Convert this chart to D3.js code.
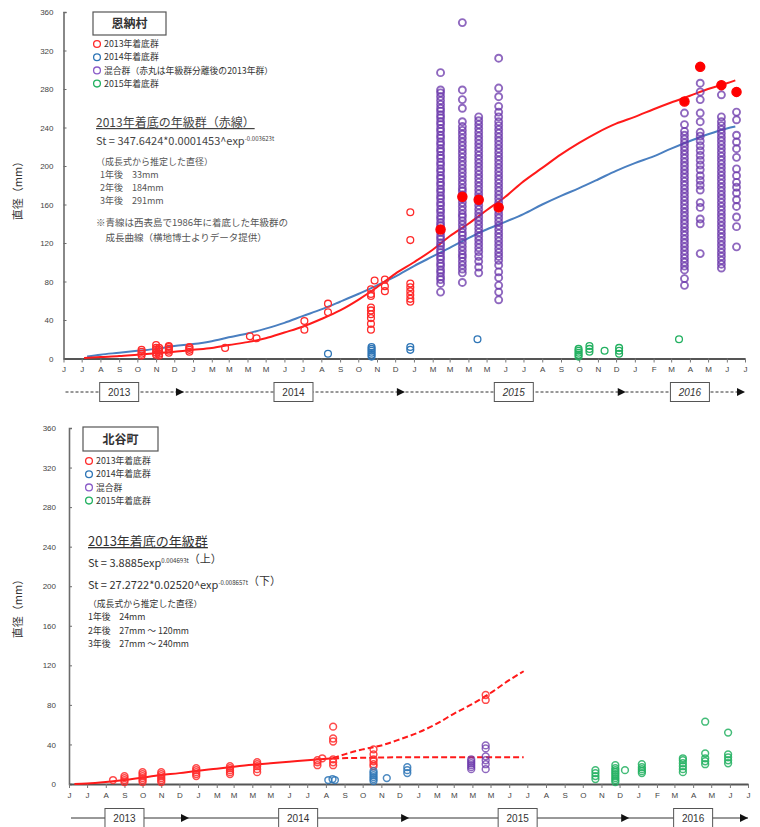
<!DOCTYPE html>
<html>
<head>
<meta charset="utf-8">
<script src="https://cdn.jsdelivr.net/npm/d3@7"></script>
<style>
body { margin: 0; background: #fff; }
text { font-family: "Noto Sans CJK JP", "Noto Sans", sans-serif; }
</style>
</head>
<body>
<div id="chart"></div>
<script>
// month letters under the axis, copied as printed (F/A shown as M in 2014-2015)
const monthLabels = ["J","J","A","S","O","N","D",
  "J","M","M","M","M","J","J","A","S","O","N","D",
  "J","M","M","M","M","J","J","A","S","O","N","D",
  "J","F","M","A","M","J","J"];
const yTicks = [0, 40, 80, 120, 160, 200, 240, 280, 320, 360];
const years = ["2013", "2014", "2015", "2016"];
const yearBoxDates = ["2013-09-01", "2014-06-16", "2015-06-15", "2016-04-01"];
const yearArrowDates = ["2013-12-17", "2014-12-17", "2015-12-17", "2016-07-01"];

const legendColors = ["#ff2a2a", "#2e75b6", "#8a5cc8", "#22b060"];
const onnaLegend = ["2013年着底群", "2014年着底群", "混合群（赤丸は年級群分離後の2013年群）", "2015年着底群"];
const chatanLegend = ["2013年着底群", "2014年着底群", "混合群", "2015年着底群"];

// ---- 恩納村 (top) ----
const onnaRed = [
  ["2013-10-08", [3, 5, 7, 9]],
  ["2013-11-01", [4, 6, 9, 11, 14]],
  ["2013-11-06", [3, 5, 7, 9, 11]],
  ["2013-11-22", [6, 8, 10, 12, 13]],
  ["2013-12-26", [7, 9, 11, 12]],
  ["2014-02-23", [11]],
  ["2014-04-05", [23]],
  ["2014-04-16", [21]],
  ["2014-07-04", [30, 39]],
  ["2014-08-12", [48, 57]],
  ["2014-10-22", [30, 36, 42, 46, 50, 53, 65, 67, 72]],
  ["2014-10-28", [81]],
  ["2014-11-14", [70, 75, 82]],
  ["2014-12-26", [59, 62, 66, 70, 74, 78, 123, 152]]
];
const onnaBlue = [
  ["2014-08-12", [5]],
  ["2014-10-23", [2, 4, 6, 8, 10, 12]],
  ["2014-12-26", [9, 12]],
  ["2015-04-16", [20]]
];
const onnaGreen = [
  ["2015-09-30", [2, 4, 6, 8, 10]],
  ["2015-10-18", [7, 10, 13]],
  ["2015-11-12", [8]],
  ["2015-12-06", [5, 8, 11]],
  ["2016-03-14", [20]]
];
const onnaMixed = [
  ["2015-02-14", [69, 78, 82, 85, 89, 92, 96, 99, 103, 106, 110, 113, 117, 120, 124, 127, 131, 134, 138, 141, 145, 148, 152, 155, 159, 162, 166, 169, 173, 176, 180, 183, 187, 190, 194, 197, 201, 204, 208, 211, 215, 218, 222, 225, 229, 232, 236, 239, 243, 246, 250, 253, 257, 260, 264, 268, 272, 276, 279, 297]],
  ["2015-03-22", [79, 89, 93, 97, 101, 105, 108, 112, 116, 120, 124, 128, 131, 135, 139, 143, 147, 150, 154, 158, 162, 166, 170, 174, 177, 181, 185, 189, 193, 197, 201, 205, 209, 213, 217, 221, 225, 229, 233, 237, 241, 246, 260, 269, 279, 349]],
  ["2015-04-18", [89, 95, 101, 106, 111, 115, 119, 123, 127, 131, 135, 139, 143, 147, 151, 155, 159, 163, 167, 171, 175, 179, 183, 187, 191, 195, 199, 203, 207, 211, 215, 219, 223, 227, 231, 235, 239, 243, 247, 251]],
  ["2015-05-21", [61, 69, 76, 84, 90, 97, 102, 106, 110, 114, 118, 122, 126, 130, 134, 138, 142, 146, 150, 154, 158, 162, 166, 170, 174, 178, 182, 186, 190, 194, 198, 202, 206, 210, 214, 218, 222, 226, 230, 234, 238, 242, 246, 251, 256, 262, 272, 281, 312]],
  ["2016-03-23", [76, 83, 92, 96, 100, 104, 108, 112, 116, 120, 124, 128, 132, 136, 140, 144, 148, 152, 156, 160, 164, 168, 172, 176, 180, 184, 188, 192, 196, 200, 204, 208, 212, 216, 220, 224, 228, 232, 236, 243, 255]],
  ["2016-04-18", [109, 140, 145, 157, 162, 175, 180, 185, 190, 196, 201, 206, 211, 216, 221, 226, 231, 235, 246, 255, 269, 277, 286]],
  ["2016-05-23", [94, 98, 102, 106, 110, 114, 118, 122, 126, 130, 134, 138, 142, 146, 150, 154, 158, 162, 166, 170, 174, 178, 182, 186, 190, 194, 198, 202, 206, 210, 214, 218, 222, 226, 230, 234, 238, 242, 246, 251, 274]],
  ["2016-06-17", [116, 137, 147, 158, 165, 172, 178, 183, 190, 197, 209, 218, 225, 232, 248, 256]]
];
const onnaRedSeparated = [
  ["2015-02-14", [134]], ["2015-03-22", [168]], ["2015-04-18", [165]], ["2015-05-21", [157]],
  ["2016-03-23", [267]], ["2016-04-18", [303]], ["2016-05-23", [284]], ["2016-06-17", [277]]
];
const onnaRedCurve = [
  ["2013-07-05", 0.5], ["2013-08-01", 1.5], ["2013-09-01", 2.5], ["2013-10-01", 4], ["2013-11-01", 5.5],
  ["2013-12-01", 7], ["2014-01-01", 9], ["2014-02-01", 11], ["2014-03-01", 14], ["2014-04-01", 17],
  ["2014-05-01", 21], ["2014-06-01", 27], ["2014-07-01", 33], ["2014-08-01", 41], ["2014-09-01", 50],
  ["2014-10-01", 61], ["2014-11-01", 74], ["2014-12-01", 88], ["2015-01-01", 100], ["2015-02-01", 113],
  ["2015-03-01", 127], ["2015-04-01", 140], ["2015-05-01", 154], ["2015-06-01", 168], ["2015-07-01", 184],
  ["2015-08-01", 198], ["2015-09-01", 212], ["2015-10-01", 224], ["2015-11-01", 235], ["2015-12-01", 244],
  ["2016-01-01", 251], ["2016-02-01", 259], ["2016-03-01", 266], ["2016-04-01", 273], ["2016-05-01", 280],
  ["2016-06-01", 286], ["2016-06-15", 289]
];
const onnaBlueCurve = [
  ["2013-07-10", 2], ["2013-08-01", 4], ["2013-09-01", 6], ["2013-10-01", 8], ["2013-11-01", 10],
  ["2013-12-01", 13], ["2014-01-01", 15], ["2014-02-01", 18], ["2014-03-01", 22], ["2014-04-01", 26],
  ["2014-05-01", 31], ["2014-06-01", 37], ["2014-07-01", 44], ["2014-08-01", 51], ["2014-09-01", 59],
  ["2014-10-01", 67], ["2014-11-01", 76], ["2014-12-01", 85], ["2015-01-01", 96], ["2015-02-01", 106],
  ["2015-03-01", 115], ["2015-04-01", 125], ["2015-05-01", 134], ["2015-06-01", 142], ["2015-07-01", 150],
  ["2015-08-01", 160], ["2015-09-01", 169], ["2015-10-01", 177], ["2015-11-01", 186], ["2015-12-01", 195],
  ["2016-01-01", 203], ["2016-02-01", 210], ["2016-03-01", 218], ["2016-04-01", 226], ["2016-05-01", 233],
  ["2016-06-01", 239], ["2016-06-15", 241]
];

// ---- 北谷町 (bottom) ----
const chatanRed = [
  ["2013-08-13", [4]],
  ["2013-09-01", [2, 4, 6, 8]],
  ["2013-10-01", [2, 4, 6, 8, 10, 12]],
  ["2013-11-01", [2, 4, 6, 8, 10, 12]],
  ["2013-12-29", [8, 10, 12, 14, 16]],
  ["2014-02-23", [10, 12, 14, 16, 18]],
  ["2014-04-09", [12, 15, 18, 20, 22]],
  ["2014-07-18", [19, 22, 24]],
  ["2014-07-26", [26]],
  ["2014-08-13", [19, 22, 25, 43, 46, 58]],
  ["2014-10-19", [18, 20, 23, 25, 30, 35]],
  ["2015-04-23", [85, 90]]
];
const chatanBlue = [
  ["2014-08-05", [4]], ["2014-08-12", [5]], ["2014-08-16", [4]],
  ["2014-10-19", [3, 5, 7, 9, 11, 13]],
  ["2014-11-10", [6]],
  ["2014-12-14", [11, 14, 17]]
];
const chatanMixed = [
  ["2015-03-30", [15, 17, 19, 21, 23, 25]],
  ["2015-04-23", [15, 20, 24, 28, 36, 39]]
];
const chatanGreen = [
  ["2015-10-22", [5, 8, 11, 14]],
  ["2015-11-24", [2, 4, 6, 8, 10, 12, 14, 16, 19]],
  ["2015-12-10", [14]],
  ["2016-01-07", [11, 13, 15, 17, 20]],
  ["2016-03-15", [12, 15, 18, 21, 24, 26]],
  ["2016-04-21", [20, 23, 26, 31, 63]],
  ["2016-05-29", [21, 24, 27, 30, 52]]
];
const chatanCurveSolid = [
  ["2013-06-10", 0], ["2013-07-01", 0.5], ["2013-08-01", 2], ["2013-09-01", 4], ["2013-10-01", 6.5],
  ["2013-11-01", 9], ["2013-12-01", 11], ["2014-01-01", 13.5], ["2014-02-01", 15.5], ["2014-03-01", 17.5],
  ["2014-04-01", 19.5], ["2014-05-01", 21], ["2014-06-01", 22.5], ["2014-07-01", 24], ["2014-08-13", 26]
];
const chatanCurveUpper = [
  ["2014-08-13", 26], ["2014-09-01", 30], ["2014-10-01", 35], ["2014-11-01", 39], ["2014-12-01", 45],
  ["2015-01-01", 52], ["2015-02-01", 61], ["2015-03-01", 71], ["2015-04-01", 81], ["2015-05-01", 92],
  ["2015-06-01", 105], ["2015-06-25", 114]
];
const chatanCurveLower = [
  ["2014-08-13", 26], ["2014-10-01", 26.5], ["2014-12-01", 27], ["2015-02-01", 27],
  ["2015-04-01", 27], ["2015-06-25", 27]
];

const parse = d3.timeParse("%Y-%m-%d");
const W = 760, H = 827;
const svg = d3.select("#chart").append("svg")
  .attr("width", W).attr("height", H)
  .style("background", "#fff");

function flatten(groups) {
  return groups.flatMap(([d, vals]) => vals.map(v => ({ date: parse(d), v })));
}

function dots(g, x, y, groups, color, r, filled, sw = 1.3, op = 1) {
  g.append("g").selectAll("circle")
    .data(flatten(groups))
    .join("circle")
    .attr("cx", d => x(d.date))
    .attr("cy", d => y(d.v))
    .attr("r", r)
    .attr("fill", filled ? color : "none")
    .attr("stroke", color)
    .attr("stroke-width", sw)
    .attr("stroke-opacity", op);
}

function curve(g, x, y, pts, color, dash) {
  const line = d3.line()
    .x(d => x(parse(d[0])))
    .y(d => y(d[1]))
    .curve(d3.curveMonotoneX);
  g.append("path")
    .datum(pts)
    .attr("d", line)
    .attr("fill", "none")
    .attr("stroke", color)
    .attr("stroke-width", 2)
    .attr("stroke-dasharray", dash || null);
}

function addText(g, x, y, parts, size, opts = {}) {
  const t = g.append("text")
    .attr("x", x).attr("y", y)
    .attr("font-size", size)
    .attr("fill", opts.fill || "#333")
    .attr("font-weight", opts.bold ? "bold" : null)
    .style("text-decoration", opts.underline ? "underline" : null);
  parts.forEach(p => {
    if (typeof p === "string") {
      t.append("tspan").text(p);
    } else {
      t.append("tspan").attr("font-size", size * 0.55).attr("dy", -size * 0.38).text(p.sup);
      t.append("tspan").attr("dy", size * 0.38).text("");
    }
  });
  return t;
}

function drawPanel(cfg) {
  const g = svg.append("g");
  const x = d3.scaleTime()
    .domain([parse("2013-06-01"), parse("2016-07-01")])
    .range([cfg.left, cfg.right]);
  const y = d3.scaleLinear().domain([0, 360]).range([cfg.bottom, cfg.top]);

  // y axis
  const yAxis = g.append("g")
    .attr("transform", `translate(${cfg.left},0)`)
    .call(d3.axisLeft(y).tickValues(yTicks).tickSize(-3).tickPadding(cfg.yPad));
  yAxis.select(".domain").attr("stroke", "#6b6b6b").attr("stroke-width", 1.6);
  yAxis.selectAll(".tick line").attr("stroke", "#6b6b6b");
  yAxis.selectAll("text").attr("font-size", 8).attr("fill", "#444")
    .style("font-family", "'Liberation Sans', sans-serif");

  // x axis
  const tickDates = d3.timeMonth.range(parse("2013-06-01"), parse("2016-07-02"));
  const xAxis = g.append("g")
    .attr("transform", `translate(0,${cfg.bottom})`)
    .call(d3.axisBottom(x).tickValues(tickDates).tickSize(4).tickSizeOuter(0)
      .tickFormat((d, i) => monthLabels[i]).tickPadding(4));
  xAxis.select(".domain").attr("stroke", "#555").attr("stroke-width", 1.8);
  xAxis.selectAll(".tick line").attr("stroke", "#777");
  xAxis.selectAll("text").attr("font-size", 8).attr("fill", "#444")
    .style("font-family", "'Liberation Sans', sans-serif");

  // y label
  g.append("text")
    .attr("transform", `translate(22,${cfg.labelY}) rotate(-90)`)
    .attr("text-anchor", "middle")
    .attr("font-size", 11)
    .attr("fill", "#333")
    .text("直径（mm）");

  // year band
  const band = g.append("g");
  const yl = cfg.bandY;
  band.append("line")
    .attr("x1", x(parse("2013-06-01")) + 2).attr("x2", x(parse(yearArrowDates[3])))
    .attr("y1", yl).attr("y2", yl)
    .attr("stroke", "#333").attr("stroke-width", 1)
    .attr("stroke-dasharray", cfg.bandDash);
  yearArrowDates.forEach(d => {
    const ax = x(parse(d));
    band.append("path")
      .attr("d", `M${ax},${yl} l-8,-4 l0,8 z`)
      .attr("fill", "#111");
  });
  years.forEach((yr, i) => {
    const cx = x(parse(yearBoxDates[i]));
    band.append("rect")
      .attr("x", cx - 19.5).attr("y", yl - 9.5).attr("width", 39).attr("height", 19)
      .attr("fill", "#fff").attr("stroke", "#555").attr("stroke-width", 1);
    band.append("text")
      .attr("x", cx).attr("y", yl + 4)
      .attr("text-anchor", "middle")
      .attr("font-size", 10)
      .attr("font-style", cfg.italicYears && i >= 2 ? "italic" : null)
      .attr("fill", "#333")
      .style("font-family", "'Liberation Sans', sans-serif")
      .text(yr);
  });

  // title box + legend
  g.append("rect")
    .attr("x", cfg.titleBox[0]).attr("y", cfg.titleBox[1])
    .attr("width", cfg.titleBox[2]).attr("height", cfg.titleBox[3])
    .attr("fill", "#fff").attr("stroke", "#555").attr("stroke-width", 1.2);
  g.append("text")
    .attr("x", cfg.titleBox[0] + cfg.titleBox[2] / 2)
    .attr("y", cfg.titleBox[1] + cfg.titleBox[3] / 2 + 4.5)
    .attr("text-anchor", "middle").attr("font-size", 12).attr("font-weight", "bold")
    .attr("fill", "#333").text(cfg.title);
  cfg.legend.forEach((lab, i) => {
    const ly = cfg.legendY + i * 13.2;
    g.append("circle").attr("cx", cfg.legendX).attr("cy", ly).attr("r", 3.4)
      .attr("fill", "none").attr("stroke", legendColors[i]).attr("stroke-width", 1.3);
    g.append("text").attr("x", cfg.legendX + 7).attr("y", ly + 3.2)
      .attr("font-size", 8.8).attr("fill", "#333").text(lab);
  });

  return { g, x, y };
}

// ---------- top panel ----------
const onnaPanel = drawPanel({
  left: 63.5, right: 745, top: 12, bottom: 358.5, yPad: 10, labelY: 188,
  bandY: 392, bandDash: "3,2", italicYears: true,
  title: "恩納村", titleBox: [93, 12, 73, 23],
  legend: onnaLegend, legendX: 97, legendY: 44
});
curve(onnaPanel.g, onnaPanel.x, onnaPanel.y, onnaBlueCurve, "#4a7fc0");
curve(onnaPanel.g, onnaPanel.x, onnaPanel.y, onnaRedCurve, "#ff1a1a");
dots(onnaPanel.g, onnaPanel.x, onnaPanel.y, onnaMixed, "#6a35aa", 3.5, false, 1.9, 0.75);
dots(onnaPanel.g, onnaPanel.x, onnaPanel.y, onnaRed, "#ff2a2a", 3.4, false);
dots(onnaPanel.g, onnaPanel.x, onnaPanel.y, onnaBlue, "#2e75b6", 3.4, false);
dots(onnaPanel.g, onnaPanel.x, onnaPanel.y, onnaGreen, "#22b060", 3.4, false);
dots(onnaPanel.g, onnaPanel.x, onnaPanel.y, onnaRedSeparated, "#ff0000", 4.6, true);

addText(onnaPanel.g, 96, 127, ["2013年着底の年級群（赤線）"], 12, { underline: true, fill: "#444" });
addText(onnaPanel.g, 96, 145, ["St = 347.6424*0.0001453^exp", { sup: "-0.003623t" }], 11, { fill: "#444" });
addText(onnaPanel.g, 96, 165, ["（成長式から推定した直径）"], 9, { fill: "#555" });
addText(onnaPanel.g, 100, 178, ["1年後　33mm"], 9, { fill: "#555" });
addText(onnaPanel.g, 100, 191, ["2年後　184mm"], 9, { fill: "#555" });
addText(onnaPanel.g, 100, 204, ["3年後　291mm"], 9, { fill: "#555" });
addText(onnaPanel.g, 96, 226, ["※青線は西表島で1986年に着底した年級群の"], 9.5, { fill: "#555" });
addText(onnaPanel.g, 96, 241, ["　成長曲線（横地博士よりデータ提供）"], 9.5, { fill: "#555" });

// ---------- bottom panel ----------
const chatanPanel = drawPanel({
  left: 69, right: 748, top: 428, bottom: 784, yPad: 13, labelY: 606,
  bandY: 818, bandDash: null, italicYears: false,
  title: "北谷町", titleBox: [83, 427, 75, 24],
  legend: chatanLegend, legendX: 89, legendY: 461
});
curve(chatanPanel.g, chatanPanel.x, chatanPanel.y, chatanCurveSolid, "#ff1a1a");
curve(chatanPanel.g, chatanPanel.x, chatanPanel.y, chatanCurveUpper, "#ff1a1a", "6,3");
curve(chatanPanel.g, chatanPanel.x, chatanPanel.y, chatanCurveLower, "#ff1a1a", "6,3");
dots(chatanPanel.g, chatanPanel.x, chatanPanel.y, chatanRed, "#ff2a2a", 3.4, false, 1.5, 0.85);
dots(chatanPanel.g, chatanPanel.x, chatanPanel.y, chatanBlue, "#2e75b6", 3.4, false, 1.5, 0.85);
dots(chatanPanel.g, chatanPanel.x, chatanPanel.y, chatanMixed, "#6a35aa", 3.4, false, 1.5, 0.75);
dots(chatanPanel.g, chatanPanel.x, chatanPanel.y, chatanGreen, "#22b060", 3.4, false, 1.5, 0.85);

addText(chatanPanel.g, 88, 546, ["2013年着底の年級群"], 13, { underline: true });
addText(chatanPanel.g, 88, 567, ["St = 3.8885exp", { sup: "0.004693t" }, "（上）"], 11);
addText(chatanPanel.g, 88, 589, ["St = 27.2722*0.02520^exp", { sup: "-0.008657t" }, "（下）"], 11);
addText(chatanPanel.g, 88, 607, ["（成長式から推定した直径）"], 8.8);
addText(chatanPanel.g, 88, 620, ["1年後　24mm"], 8.8);
addText(chatanPanel.g, 88, 633.5, ["2年後　27mm ～ 120mm"], 8.8);
addText(chatanPanel.g, 88, 646.5, ["3年後　27mm ～ 240mm"], 8.8);
</script>
</body>
</html>
